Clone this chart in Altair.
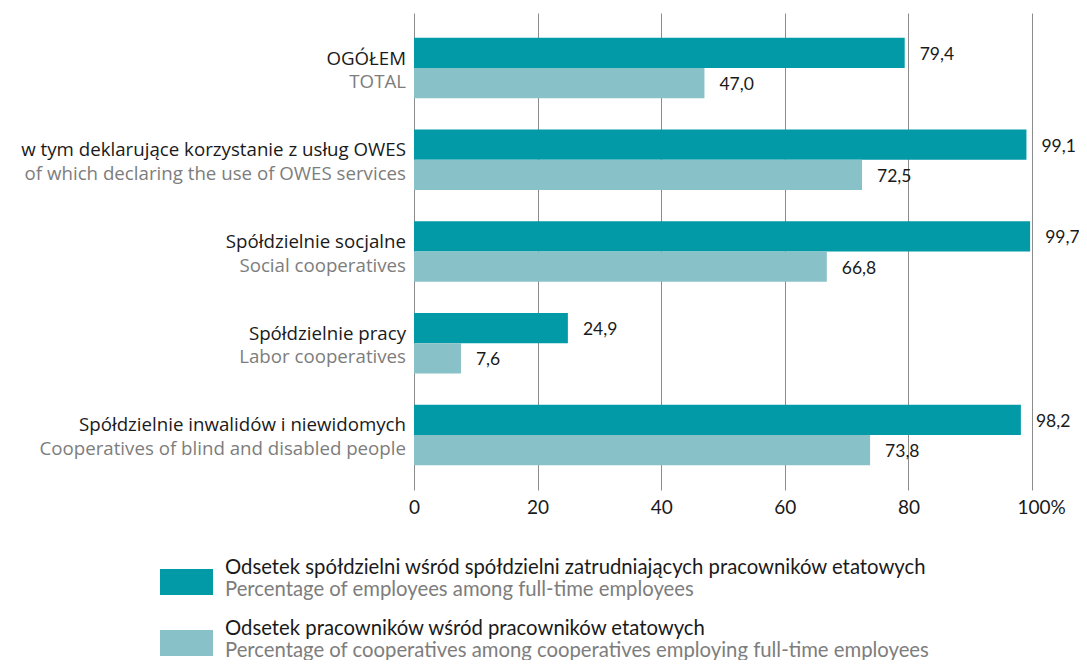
import altair as alt
import pandas as pd

# ---- data ----
categories_pl = [
    "OGÓŁEM",
    "w tym deklarujące korzystanie z usług OWES",
    "Spółdzielnie socjalne",
    "Spółdzielnie pracy",
    "Spółdzielnie inwalidów i niewidomych",
]
categories_en = [
    "TOTAL",
    "of which declaring the use of OWES services",
    "Social cooperatives",
    "Labor cooperatives",
    "Cooperatives of blind and disabled people",
]
series_keys = ["s1", "s2"]
series_pl = [
    "Odsetek spółdzielni wśród spółdzielni zatrudniających pracowników etatowych",
    "Odsetek pracowników wśród pracowników etatowych",
]
series_en = [
    "Percentage of employees among full-time employees",
    "Percentage of cooperatives among cooperatives employing full-time employees",
]
values_s1 = [79.4, 99.1, 99.7, 24.9, 98.2]
values_s2 = [47.0, 72.5, 66.8, 7.6, 73.8]
x_ticks = [0, 20, 40, 60, 80, 100]

colors = ["#039aa8", "#88c1c7"]
BLACK = "#1a1a1a"
GRAY = "#7d7d7d"
FONT = "Open Sans"
NARROW = "Lato"

rows = []
for i, cat in enumerate(categories_pl):
    for k, vals in zip(series_keys, [values_s1, values_s2]):
        rows.append({"cat": cat, "cat_en": categories_en[i], "series": k, "value": vals[i]})
df = pd.DataFrame(rows)

cat_df = pd.DataFrame({"cat": categories_pl, "cat_en": categories_en})

W, H = 618, 477

y_scale = alt.Scale(domain=categories_pl, paddingInner=0.34, paddingOuter=0.27)
x_scale = alt.Scale(domain=[0, 100], nice=False, zero=True)

base = alt.Chart(df)

bars = base.mark_bar().encode(
    x=alt.X(
        "value:Q",
        scale=x_scale,
        axis=alt.Axis(
            values=x_ticks,
            title=None,
            grid=True,
            gridColor="#8c8c8c",
            gridWidth=1,
            domain=False,
            ticks=False,
            labelExpr="datum.value == 100 ? '100%' : datum.label",
            labelAlign=alt.condition("datum.value == 100", alt.value("left"), alt.value("center")),
            labelOffset=alt.condition("datum.value == 100", alt.value(-15), alt.value(0)),
            labelFont=NARROW,
            labelFontSize=19,
            labelColor=BLACK,
            labelPadding=8,
        ),
    ),
    y=alt.Y("cat:N", scale=y_scale, axis=None, sort=categories_pl),
    yOffset=alt.YOffset("series:N", sort=series_keys),
    color=alt.Color(
        "series:N", scale=alt.Scale(domain=series_keys, range=colors), legend=None
    ),
)

value_labels = base.transform_calculate(
    lbl="replace(format(datum.value, '.1f'), '.', ',')"
).mark_text(
    align="left", baseline="middle", dx=15, dy=2, font=NARROW, fontSize=17.5, color=BLACK
).encode(
    x=alt.X("value:Q", scale=x_scale),
    y=alt.Y("cat:N", scale=y_scale, sort=categories_pl),
    yOffset=alt.YOffset("series:N", sort=series_keys),
    text="lbl:N",
)

cat_base = alt.Chart(cat_df)
labels_pl = cat_base.mark_text(
    align="right", baseline="alphabetic", dy=-3.5, font=FONT, fontSize=18.7, color=BLACK
).encode(
    x=alt.value(-8),
    y=alt.Y("cat:N", scale=y_scale, sort=categories_pl),
    text="cat:N",
)
labels_en = cat_base.mark_text(
    align="right", baseline="alphabetic", dy=20, font=FONT, fontSize=18.7, color=GRAY
).encode(
    x=alt.value(-8),
    y=alt.Y("cat:N", scale=y_scale, sort=categories_pl),
    text="cat_en:N",
)

# ---- custom two-line legend below the plot ----
leg_layers = []
leg_y = [556, 617]
for i in range(2):
    one = pd.DataFrame({"pl": [series_pl[i]], "en": [series_en[i]]})
    y0 = leg_y[i]
    sw = alt.Chart(one).mark_rect(color=colors[i]).encode(
        x=alt.value(-254), x2=alt.value(-201), y=alt.value(y0), y2=alt.value(y0 + 26)
    )
    t1 = alt.Chart(one).mark_text(
        align="left", baseline="alphabetic", font=NARROW, fontSize=20.3, color=BLACK
    ).encode(x=alt.value(-189), y=alt.value(y0 + 5), text="pl:N")
    t2 = alt.Chart(one).mark_text(
        align="left", baseline="alphabetic", font=NARROW, fontSize=20.3, color=GRAY
    ).encode(x=alt.value(-189), y=alt.value(y0 + 27), text="en:N")
    leg_layers += [sw, t1, t2]

chart = alt.layer(bars, value_labels, labels_pl, labels_en, *leg_layers).properties(
    width=W,
    height=H,
    padding={"left": 406, "top": 5, "right": 47, "bottom": 170},
    autosize=alt.AutoSizeParams(type="none"),
).configure_view(stroke=None)

chart.save("out.html", embed_options={"renderer": "svg", "actions": False})
